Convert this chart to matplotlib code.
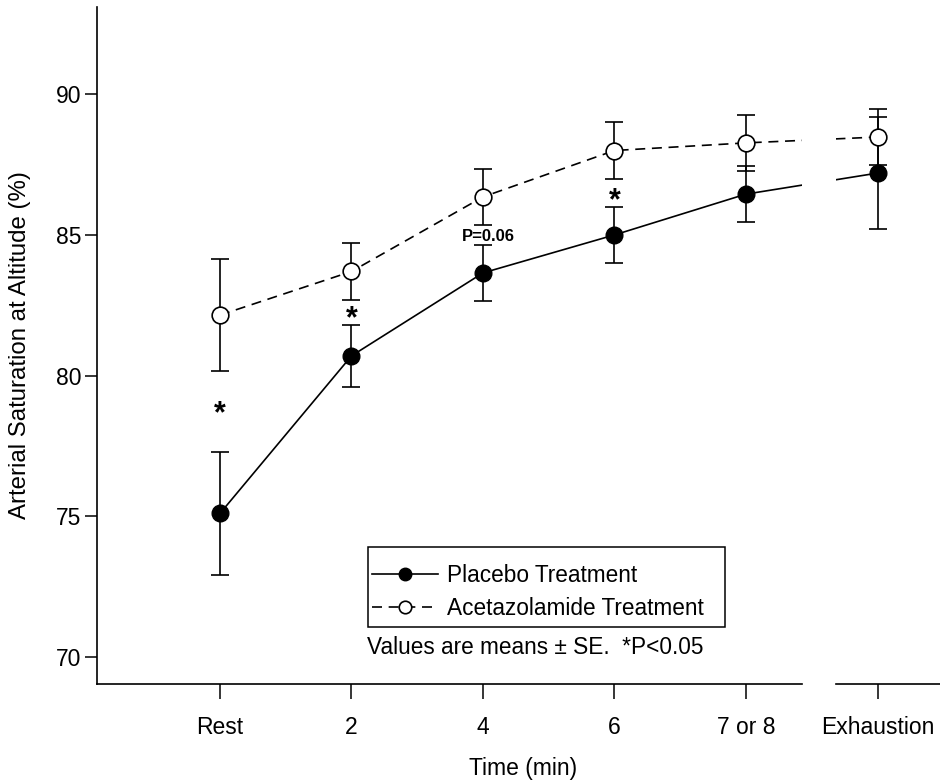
import numpy as np
import matplotlib
matplotlib.use("Agg")
import matplotlib.pyplot as plt
from matplotlib.patches import Rectangle
from matplotlib.transforms import offset_copy

plt.rcParams['font.family'] = ['Liberation Sans', 'DejaVu Sans']

# data
tick_labels = ["Rest", "2", "4", "6", "7 or 8", "Exhaustion"]
placebo_mean = [75.1, 80.7, 83.65, 85.0, 86.45, 87.2]
placebo_se = [2.2, 1.1, 1.0, 1.0, 1.0, 2.0]
acet_mean = [82.15, 83.7, 86.35, 88.0, 88.27, 88.48]
acet_se = [2.0, 1.0, 1.0, 1.0, 1.0, 1.0]

# significance marks (x index, y value)
star_x = [0, 1, 3]
star_y = [78.9, 82.25, 86.45]
pnote_x = 2
pnote_y = 84.95

x = np.arange(len(tick_labels))

fig = plt.figure(figsize=(9.4, 7.82), dpi=100)
W, H = 940, 782
# pixel layout of the broken x axis
left, right1, left2, right2 = 97, 802, 836, 940
bottom, top = 684, 7
ax1 = fig.add_axes([left / W, 1 - bottom / H, (right1 - left) / W, (bottom - top) / H])
ax2 = fig.add_axes([left2 / W, 1 - bottom / H, (right2 - left2) / W, (bottom - top) / H], sharey=ax1)

xl1 = (-0.935, 4.426)
ppu = (right1 - left) / (xl1[1] - xl1[0])
xl2 = (4.681, 4.681 + (right2 - left2) / ppu)

for ax in (ax1, ax2):
    ax.errorbar(x, placebo_mean, yerr=placebo_se, fmt='none', ecolor='black',
                elinewidth=1.2, capsize=6.5, capthick=1.2, zorder=2)
    ax.plot(x, placebo_mean, '-', color='black', lw=1.2, marker='o', ms=12,
            mfc='black', mec='black', label='Placebo Treatment', zorder=3)
    ax.errorbar(x, acet_mean, yerr=acet_se, fmt='none', ecolor='black',
                elinewidth=1.2, capsize=6.5, capthick=1.2, zorder=4)
    ax.plot(x, acet_mean, '--', color='black', lw=1.2, dashes=(6, 4), marker='o', ms=12,
            mfc='white', mec='black', mew=1.2, label='Acetazolamide Treatment', zorder=5)
    for sp in ('top', 'right'):
        ax.spines[sp].set_visible(False)
    ax.spines['bottom'].set_linewidth(1.2)
    ax.set_xticks(x)
    ax.set_xticklabels(tick_labels)
    ax.tick_params(axis='x', direction='out', length=11, width=1.1, pad=12, labelsize=16.5)

ax1.set_xlim(*xl1)
ax2.set_xlim(*xl2)
ax1.set_ylim(69.04, 93.1)
ax1.set_yticks([70, 75, 80, 85, 90])
ax1.tick_params(axis='y', direction='out', length=9, width=1.1, pad=2, labelsize=16.5)
ax1.spines['left'].set_linewidth(1.2)
ax2.spines['left'].set_visible(False)
ax2.tick_params(axis='y', left=False, labelleft=False)

# stars and p-value note
for sx, sy in zip(star_x, star_y):
    tr = offset_copy(ax1.transData, fig=fig, y=-11, units='points')
    ax1.text(sx, sy, "*", transform=tr, ha='center', va='baseline',
             fontsize=22, fontweight='bold')
ax1.text(pnote_x + 0.04, pnote_y, "P=0.06", ha='center', va='center',
         fontsize=12, fontweight='bold')

# legend (frame drawn separately so the padding can match the original)
aw, ah = right1 - left, bottom - top
ax1.legend(loc='center left', bbox_to_anchor=((372 - left) / aw, (bottom - 592) / ah),
           borderaxespad=0, borderpad=0, fontsize=16.3, frameon=False, markerscale=0.75,
           handlelength=2.9, handletextpad=0.4, labelspacing=0.42)
fig.add_artist(Rectangle((368 / W, 1 - 627 / H), (725 - 368) / W, (627 - 547) / H,
                         transform=fig.transFigure, fill=False, edgecolor='black', lw=1.1))

fig.text(367 / W, 1 - 647 / H, "Values are means ± SE.  *P<0.05", ha='left', va='center', fontsize=16.3)
fig.text(523 / W, 1 - 768 / H, "Time (min)", ha='center', va='center', fontsize=16.5)
fig.text(20 / W, 1 - 345 / H, "Arterial Saturation at Altitude (%)", rotation=90,
         ha='center', va='center', fontsize=17.3)

fig.savefig("out.png", dpi=100)
